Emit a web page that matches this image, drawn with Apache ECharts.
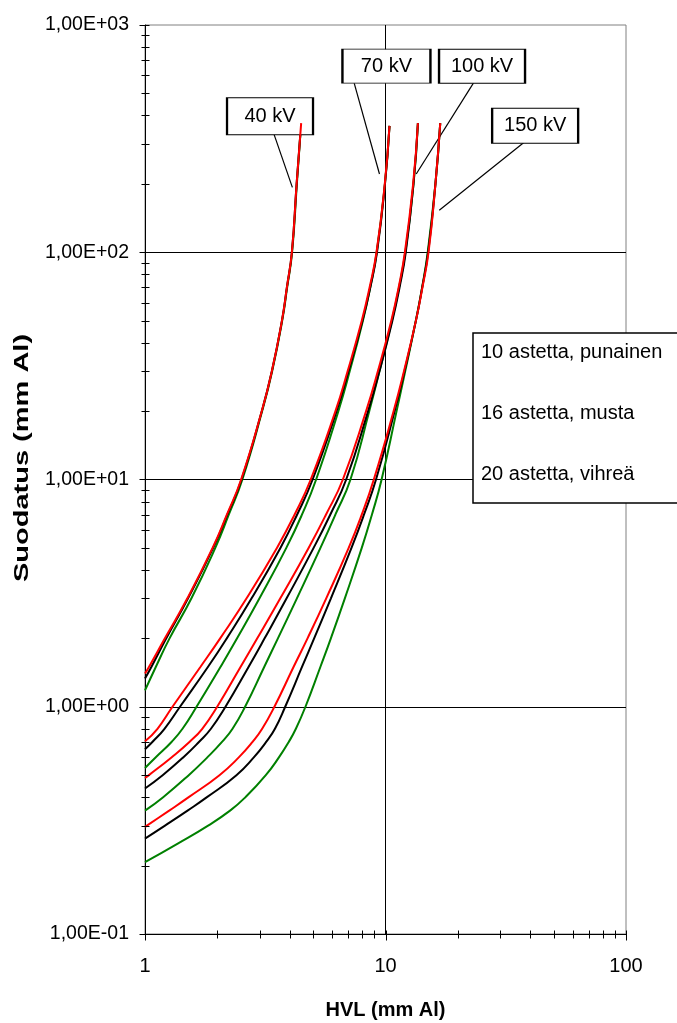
<!DOCTYPE html>
<html>
<head>
<meta charset="utf-8">
<script src="https://cdn.jsdelivr.net/npm/echarts@6/dist/echarts.min.js"></script>
<style>
  html, body { margin: 0; padding: 0; background: #ffffff; }
  #chart { width: 677px; height: 1023px; }
</style>
</head>
<body>
<div id="chart"></div>
<script>
// Filtration (mm Al) against HVL (mm Al), per tube voltage and anode angle.
// Each point: [HVL, filtration]
const kvNames = ['40 kV', '70 kV', '100 kV', '150 kV'];
const angleNames = ['10 astetta, punainen', '16 astetta, musta', '20 astetta, vihreä'];

const kv40deg10 = [[1,1.40],[1.04,1.5],[1.21,2],[1.50,3],[1.91,5],[2.19,7],[2.51,10],[3.06,20],[3.37,30],[3.71,50],[3.89,70],[4.08,100],[4.27,200],[4.46,370]];
const kv40deg16 = [[1,1.33],[1.064,1.5],[1.226,2],[1.51,3],[1.92,5],[2.20,7],[2.52,10],[3.06,20],[3.37,30],[3.71,50],[3.89,70],[4.08,100],[4.27,200],[4.46,370]];
const kv40deg20 = [[1,1.18],[1.11,1.5],[1.265,2],[1.56,3],[1.96,5],[2.23,7],[2.54,10],[3.07,20],[3.38,30],[3.72,50],[3.90,70],[4.09,100],[4.28,200],[4.46,370]];

const kv70deg10 = [[1,0.705],[1.127,0.8],[1.301,1],[1.702,1.5],[2.054,2],[2.645,3],[3.536,5],[4.185,7],[4.888,10],[6.193,20],[6.962,30],[7.967,50],[8.586,70],[9.174,100],[9.933,200],[10.39,360]];
const kv70deg16 = [[1,0.65],[1.073,0.7],[1.205,0.8],[1.398,1],[1.829,1.5],[2.188,2],[2.775,3],[3.656,5],[4.288,7],[4.977,10],[6.259,20],[7.022,30],[8.021,50],[8.644,70],[9.217,100],[9.952,200],[10.39,360]];
const kv70deg20 = [[1,0.538],[1.109,0.6],[1.289,0.7],[1.432,0.8],[1.638,1],[2.062,1.5],[2.415,2],[2.993,3],[3.869,5],[4.493,7],[5.147,10],[6.368,20],[7.102,30],[8.053,50],[8.637,70],[9.192,100],[9.943,200],[10.39,360]];

const kv100deg10 = [[1,0.486],[1.038,0.5],[1.292,0.6],[1.53,0.7],[1.73,0.8],[1.996,1],[2.499,1.5],[2.93,2],[3.653,3],[4.789,5],[5.653,7],[6.648,10],[8.305,20],[9.298,30],[10.57,50],[11.34,70],[12.04,100],[13.03,200],[13.64,370]];
const kv100deg16 = [[1,0.437],[1.184,0.5],[1.445,0.6],[1.676,0.7],[1.88,0.8],[2.161,1],[2.698,1.5],[3.143,2],[3.88,3],[5.025,5],[5.891,7],[6.864,10],[8.465,20],[9.441,30],[10.68,50],[11.44,70],[12.14,100],[13.07,200],[13.64,370]];
const kv100deg20 = [[1,0.349],[1.19,0.4],[1.52,0.5],[1.82,0.6],[2.09,0.7],[2.312,0.8],[2.607,1],[3.134,1.5],[3.57,2],[4.282,3],[5.364,5],[6.187,7],[7.15,10],[8.563,20],[9.441,30],[10.63,50],[11.38,70],[12.09,100],[13.08,200],[13.64,370]];

const kv150deg10 = [[1,0.296],[1.018,0.3],[1.265,0.35],[1.52,0.4],[2.04,0.5],[2.46,0.6],[2.80,0.7],[3.07,0.8],[3.452,1],[4.15,1.5],[4.74,2],[5.67,3],[7.03,5],[7.967,7],[8.941,10],[10.81,20],[11.94,30],[13.38,50],[14.24,70],[15.1,100],[16.13,200],[16.89,370]];
const kv150deg16 = [[1,0.263],[1.211,0.3],[1.508,0.35],[1.81,0.4],[2.40,0.5],[2.84,0.6],[3.19,0.7],[3.47,0.8],[3.828,1],[4.50,1.5],[5.05,2],[5.93,3],[7.22,5],[8.136,7],[9.132,10],[10.92,20],[12.0,30],[13.38,50],[14.21,70],[15.04,100],[16.13,200],[16.89,370]];
const kv150deg20 = [[1,0.207],[1.368,0.25],[1.83,0.3],[2.265,0.35],[2.617,0.4],[3.179,0.5],[3.61,0.6],[3.96,0.7],[4.24,0.8],[4.647,1],[5.364,1.5],[5.927,2],[6.776,3],[7.967,5],[8.779,7],[9.634,10],[11.12,20],[12.08,30],[13.37,50],[14.2,70],[14.98,100],[16.13,200],[16.89,370]];

// Axis ranges and log tick positions
const xRange = [1, 100];
const yRange = [0.1, 1000];
const xMajorTicks = [1, 10, 100];
const xMinorTicks = [2, 3, 4, 5, 6, 7, 8, 9, 20, 30, 40, 50, 60, 70, 80, 90];
const yMajorTicks = [0.1, 1, 10, 100, 1000];
const yMinorTicks = [0.2, 0.3, 0.4, 0.5, 0.6, 0.7, 0.8, 0.9, 2, 3, 4, 5, 6, 7, 8, 9,
                     20, 30, 40, 50, 60, 70, 80, 90, 200, 300, 400, 500, 600, 700, 800, 900];

// Rows: tube voltage; columns: anode angle (10, 16, 20 degrees)
const curveTable = [
  [kv40deg10, kv40deg16, kv40deg20],
  [kv70deg10, kv70deg16, kv70deg20],
  [kv100deg10, kv100deg16, kv100deg20],
  [kv150deg10, kv150deg16, kv150deg20]
];

// Voltage callouts: box centre, leader start and leader tip, in data coordinates
const callouts = [
  { box: [3.31, 397], from: [3.44, 330], to: [4.10, 193], size: [86, 37] },
  { box: [10.09, 659], from: [7.41, 555], to: [9.44, 221], size: [88, 34] },
  { box: [25.2, 659], from: [23.2, 555], to: [13.42, 221], size: [86, 34] },
  { box: [41.9, 360], from: [37.5, 303], to: [16.73, 153], size: [86, 35] }
];

const FONT = "'Liberation Sans', Arial, sans-serif";
const angleColors = ['#ff0000', '#000000', '#008000'];

function sciLabel(v) {
  const e = Math.round(Math.log10(v));
  const m = v / Math.pow(10, e);
  const mant = m.toFixed(2).replace('.', ',');
  const exp = (e < 0 ? '-' : '+') + String(Math.abs(e)).padStart(2, '0');
  return mant + 'E' + exp;
}

const series = [];
// green first, then black, red on top
[2, 1, 0].forEach(function (a) {
  curveTable.forEach(function (row, k) {
    const s = {
      name: angleNames[a],
      type: 'line',
      data: row[a],
      showSymbol: false,
      symbol: 'none',
      smooth: 0.5,
      lineStyle: { color: angleColors[a], width: 2 },
      itemStyle: { color: angleColors[a] },
      emphasis: { disabled: true },
      silent: true,
      z: 3 + (2 - a)
    };
    if (a === 0) {
      const c = callouts[k];
      s.markLine = {
        silent: true,
        symbol: ['none', 'none'],
        label: { show: false },
        lineStyle: { color: '#000', width: 1.2, type: 'solid' },
        emphasis: { disabled: true },
        data: [[{ coord: c.from }, { coord: c.to }]]
      };
      s.markPoint = {
        silent: true,
        symbol: 'rect',
        symbolSize: c.size,
        itemStyle: { color: '#fff', borderColor: '#000', borderWidth: 1.5 },
        label: {
          show: true, position: 'inside', color: '#000',
          fontFamily: FONT, fontSize: 20, formatter: kvNames[k]
        },
        emphasis: { disabled: true },
        data: [{ coord: c.box }]
      };
    }
    series.push(s);
  });
});

// Tick marks crossing the axis lines (major and minor, at log positions)
const tickData = [];
xMajorTicks.forEach(function (v) { tickData.push([v, yRange[0], 1]); });
xMinorTicks.forEach(function (v) { tickData.push([v, yRange[0], 0]); });
yMajorTicks.forEach(function (v) { tickData.push([xRange[0], v, 3]); });
yMinorTicks.forEach(function (v) { tickData.push([xRange[0], v, 2]); });

series.push({
  type: 'custom',
  silent: true,
  clip: false,
  z: 10,
  data: tickData,
  encode: { x: 0, y: 1 },
  renderItem: function (params, api) {
    const p = api.coord([api.value(0), api.value(1)]);
    const kind = api.value(2);
    const x = Math.round(p[0]) + 0.5;
    const y = Math.round(p[1]) + 0.5;
    let shape;
    if (kind === 0) shape = { x1: x, y1: y - 4, x2: x, y2: y + 4 };
    else if (kind === 1) shape = { x1: x, y1: y - 4, x2: x, y2: y + 6 };
    else if (kind === 2) shape = { x1: x - 4, y1: y, x2: x + 4, y2: y };
    else shape = { x1: x - 6, y1: y, x2: x + 4, y2: y };
    return { type: 'line', shape: shape, style: { stroke: '#000', lineWidth: 1 } };
  }
});

const option = {
  animation: false,
  backgroundColor: '#ffffff',
  textStyle: { fontFamily: FONT },
  grid: {
    left: 145, top: 25, right: 51, bottom: 89,
    outerBoundsMode: 'none',
    containLabel: false,
    show: true, borderColor: '#808080', borderWidth: 1, backgroundColor: 'transparent'
  },
  legend: {
    data: angleNames,
    orient: 'vertical',
    left: 473, top: 333,
    icon: 'none',
    itemWidth: 0, itemHeight: 20, itemGap: 41,
    padding: [9, 60, 19, 3],
    backgroundColor: '#ffffff',
    borderColor: '#000', borderWidth: 1.5, borderRadius: 0,
    selectedMode: false,
    textStyle: { fontFamily: FONT, fontSize: 20, color: '#000', lineHeight: 20 },
    z: 20
  },
  // vertical axis title, drawn with a stretched glyph run
  graphic: [{
    type: 'text',
    x: 22, y: 458,
    rotation: Math.PI / 2,
    scaleX: 1.45,
    silent: true,
    style: {
      text: 'Suodatus (mm Al)',
      font: "bold 20px 'Liberation Sans', Arial, sans-serif",
      fill: '#000',
      align: 'center',
      verticalAlign: 'middle'
    }
  }],
  xAxis: {
    type: 'log', logBase: 10, min: xRange[0], max: xRange[1],
    name: 'HVL (mm Al)', nameLocation: 'middle', nameGap: 66,
    nameTextStyle: { fontFamily: FONT, fontSize: 20, fontWeight: 'bold', color: '#000' },
    axisLine: { show: true, onZero: false, lineStyle: { color: '#000', width: 1 } },
    axisTick: { show: false },
    axisLabel: { fontFamily: FONT, fontSize: 20, color: '#000', margin: 22,
      formatter: function (v) { return String(Math.round(v)); } },
    splitLine: { show: true, showMinLine: false, showMaxLine: false, lineStyle: { color: '#000', width: 1 } },
    minorTick: { show: false }
  },
  yAxis: {
    type: 'log', logBase: 10, min: yRange[0], max: yRange[1],
    axisLine: { show: true, onZero: false, lineStyle: { color: '#000', width: 1 } },
    axisTick: { show: false },
    axisLabel: { fontFamily: FONT, fontSize: 19.5, color: '#000', margin: 16, formatter: sciLabel },
    splitLine: { show: true, showMinLine: false, showMaxLine: false, lineStyle: { color: '#000', width: 1 } },
    minorTick: { show: false }
  },
  series: series
};

const chart = echarts.init(document.getElementById('chart'), null, { renderer: 'canvas' });
chart.setOption(option);
</script>
</body>
</html>
